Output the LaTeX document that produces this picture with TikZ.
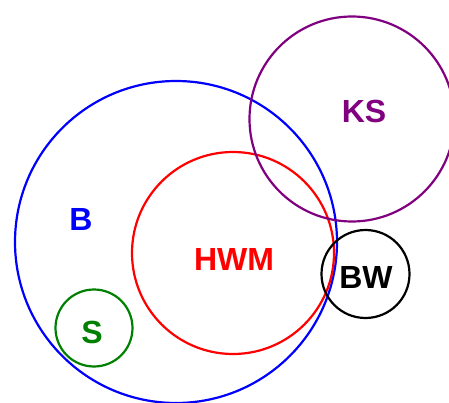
\documentclass[tikz,border=0pt]{standalone}
\usepackage{fontspec}
\setmainfont{Liberation Sans}
\definecolor{setgreen}{RGB}{0,128,0}
\definecolor{setpurple}{RGB}{128,0,128}
\begin{document}
\begin{tikzpicture}[x=1pt,y=-1pt,
  setring/.style={draw, line width=2.2pt, fill=none},
  setlabel/.style={font=\fontsize{32}{32}\selectfont\bfseries, inner sep=0pt, anchor=base}]
\useasboundingbox (0,0) rectangle (449,403);
% set outlines
\draw[setring, blue] (176,242) circle[radius=161];
\draw[setring, red] (233,253) circle[radius=101];
\draw[setring, setpurple] (352,119) circle[radius=102.5];
\draw[setring, black] (365.5,274) circle[radius=44];
\draw[setring, setgreen] (94,328) circle[radius=38.5];
% set names (placed on their baselines)
\node[setlabel, text=blue] (b) at (81,230) {B};
\node[setlabel, text=red] (hwm) at (234,270) {HWM};
\node[setlabel, text=setpurple] (ks) at (364,123) {KS};
\node[setlabel, text=black] (bw) at (366,288) {BW};
\node[setlabel, text=setgreen] (s) at (92,343) {S};
\end{tikzpicture}
\end{document}
